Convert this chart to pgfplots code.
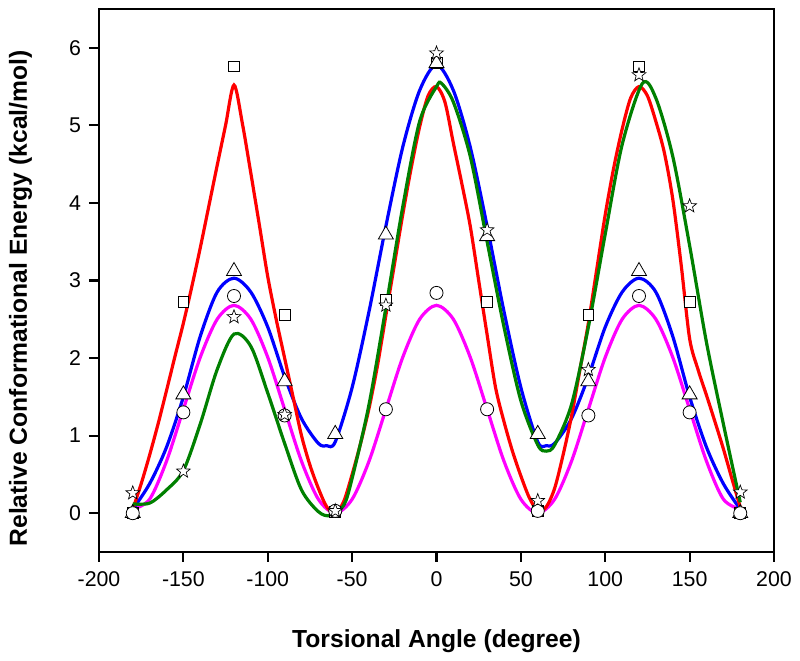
\documentclass[border=0pt]{standalone}
\usepackage{pgfplots}
\pgfplotsset{compat=1.18}
\usepackage{fontspec}
\setmainfont{Liberation Sans}
\definecolor{cred}{RGB}{255,0,0}
\definecolor{cblue}{RGB}{0,0,255}
\definecolor{cmag}{RGB}{255,0,255}
\definecolor{cgreen}{RGB}{0,128,0}

% open five-pointed star
\pgfdeclareplotmark{fstar}{%
  \pgfpathmoveto{\pgfpointpolar{90}{\pgfplotmarksize}}%
  \pgfpathlineto{\pgfpointpolar{126}{.42\pgfplotmarksize}}%
  \pgfpathlineto{\pgfpointpolar{162}{\pgfplotmarksize}}%
  \pgfpathlineto{\pgfpointpolar{198}{.42\pgfplotmarksize}}%
  \pgfpathlineto{\pgfpointpolar{234}{\pgfplotmarksize}}%
  \pgfpathlineto{\pgfpointpolar{270}{.42\pgfplotmarksize}}%
  \pgfpathlineto{\pgfpointpolar{306}{\pgfplotmarksize}}%
  \pgfpathlineto{\pgfpointpolar{342}{.42\pgfplotmarksize}}%
  \pgfpathlineto{\pgfpointpolar{18}{\pgfplotmarksize}}%
  \pgfpathlineto{\pgfpointpolar{54}{.42\pgfplotmarksize}}%
  \pgfpathclose
  \pgfusepathqfillstroke
}

% fitted curves (read off the figure)
\pgfplotstableread{
x y
-180 0.05
-175 0.38
-170 0.75
-165 1.15
-160 1.58
-155 2.02
-150 2.45
-145 2.92
-140 3.42
-135 3.95
-130 4.48
-125 5.00
-120 5.52
-115 5.02
-110 4.38
-105 3.72
-100 3.05
-95 2.50
-90 2.00
-85 1.50
-80 1.00
-75 0.62
-70 0.32
-65 0.08
-60 0.00
-55 0.15
-50 0.50
-45 0.90
-40 1.35
-35 1.90
-30 2.55
-25 3.20
-20 3.85
-15 4.45
-10 4.98
-5 5.38
0 5.50
5 5.30
10 4.77
15 4.25
20 3.70
25 3.00
30 2.30
35 1.62
40 1.18
45 0.80
50 0.48
55 0.20
60 0.03
65 0.08
70 0.32
75 0.75
80 1.25
85 1.85
90 2.45
95 3.15
100 3.85
105 4.45
110 4.95
115 5.35
120 5.50
125 5.38
130 5.05
135 4.65
140 4.05
145 3.20
150 2.25
155 1.85
160 1.52
165 1.18
170 0.83
175 0.45
180 0.08
}\redcurve

\pgfplotstableread{
x y
-180 0.05
-170 0.38
-160 0.85
-150 1.50
-140 2.28
-130 2.85
-120 3.03
-110 2.85
-100 2.40
-90 1.76
-80 1.22
-70 0.90
-65 0.87
-60 0.92
-50 1.62
-40 2.60
-30 3.70
-20 4.72
-10 5.45
0 5.78
10 5.45
20 4.72
30 3.70
40 2.60
50 1.62
60 0.92
65 0.87
70 0.90
80 1.22
90 1.76
100 2.40
110 2.85
120 3.03
130 2.85
140 2.28
150 1.50
160 0.85
170 0.38
180 0.05
}\bluecurve

\pgfplotstableread{
x y
-180 0.05
-170 0.18
-160 0.67
-150 1.34
-140 2.01
-130 2.50
-120 2.68
-110 2.50
-100 2.01
-90 1.34
-80 0.67
-70 0.18
-60 0.00
-50 0.18
-40 0.67
-30 1.34
-20 2.01
-10 2.50
0 2.68
10 2.50
20 2.01
30 1.34
40 0.67
50 0.18
60 0.00
70 0.18
80 0.67
90 1.34
100 2.01
110 2.50
120 2.68
130 2.50
140 2.01
150 1.34
160 0.67
170 0.18
180 0.05
}\magcurve

\pgfplotstableread{
x y
-180 0.12
-170 0.13
-160 0.30
-150 0.55
-140 1.15
-130 1.85
-120 2.31
-110 2.15
-100 1.55
-90 0.90
-80 0.30
-70 0.02
-63 -0.03
-55 0.10
-50 0.45
-40 1.40
-30 2.65
-20 3.95
-10 5.05
0 5.50
3 5.54
10 5.30
20 4.60
30 3.50
40 2.40
50 1.45
60 0.88
65 0.80
70 0.88
80 1.40
90 2.40
100 3.60
110 4.75
122 5.54
130 5.35
140 4.60
150 3.45
160 2.20
170 1.15
180 0.14
}\greencurve

\begin{document}
\begin{tikzpicture}
\begin{axis}[
  name=ax, scale only axis,
  width=506.25pt, height=407.25pt,
  xmin=-200, xmax=200, ymin=-0.5, ymax=6.5,
  xtick={-200,-150,-100,-50,0,50,100,150,200},
  xticklabels={-200,-150,-100,-50,0,50,100,150,200},
  ytick={0,1,2,3,4,5,6},
  yticklabels={0,1,2,3,4,5,6},
  xtick pos=bottom, ytick pos=left,
  tick align=outside, major tick length=7.5pt,
  axis line style={line width=1.6pt},
  tick style={line width=1.6pt, black},
  ticklabel style={font=\fontsize{16}{16}\selectfont},
  every x tick label/.append style={yshift=-3.5pt},
  every y tick label/.append style={anchor=east, xshift=-2.5pt},
  xlabel={Torsional Angle (degree)},
  ylabel={Relative Conformational Energy (kcal/mol)},
  every axis x label/.style={at={(axis description cs:0.5,-0.175)}, anchor=base,
    font=\bfseries\fontsize{18.5}{18.5}\selectfont},
  every axis y label/.style={at={(axis description cs:-0.1067,0.467)}, rotate=90, anchor=base,
    font=\bfseries\fontsize{18.5}{18.5}\selectfont},
]
\addplot[cmag, line width=2.4pt, smooth] table {\magcurve};
\addplot[cblue, line width=2.4pt, smooth] table {\bluecurve};
\addplot[cred, line width=2.4pt, smooth] table {\redcurve};
\addplot[cgreen, line width=2.4pt, smooth] table {\greencurve};

\addplot[only marks, mark=square*, mark size=4.1pt,
  mark options={draw=black, fill=white, line width=0.6pt}] coordinates {
  (-180,0) (-150,2.73) (-120,5.76) (-90,2.56) (-60,0.02) (-30,2.75) (0,5.80)
  (30,2.73) (60,0.03) (90,2.56) (120,5.76) (150,2.73) (180,0)};
\addplot[only marks, mark=triangle*, mark size=6.5pt,
  mark options={draw=black, fill=white, line width=0.6pt}] coordinates {
  (-180,0) (-150,1.53) (-120,3.12) (-90,1.70) (-60,1.02) (-30,3.59) (0,5.80)
  (30,3.57) (60,1.02) (90,1.70) (120,3.12) (150,1.53) (180,0)};
\addplot[only marks, mark=*, mark size=4.9pt,
  mark options={draw=black, fill=white, line width=0.6pt}] coordinates {
  (-180,0) (-150,1.30) (-120,2.80) (-90,1.26) (-60,0.03) (-30,1.34) (0,2.84)
  (30,1.34) (60,0.03) (90,1.26) (120,2.80) (150,1.30) (180,0)};
\addplot[only marks, mark=fstar, mark size=5.4pt,
  mark options={draw=black, fill=white, line width=0.5pt}] coordinates {
  (-180,0.26) (-150,0.54) (-120,2.53) (-90,1.27) (-60,0.03) (-30,2.68) (0,5.93)
  (30,3.65) (60,0.16) (90,1.85) (120,5.65) (150,3.96) (180,0.27)};
\end{axis}
\pgfresetboundingbox
\path[use as bounding box] ([xshift=-74.25pt,yshift=-81.75pt]ax.south west)
  rectangle ([xshift=19.5pt,yshift=6.75pt]ax.north east);
\end{tikzpicture}
\end{document}
